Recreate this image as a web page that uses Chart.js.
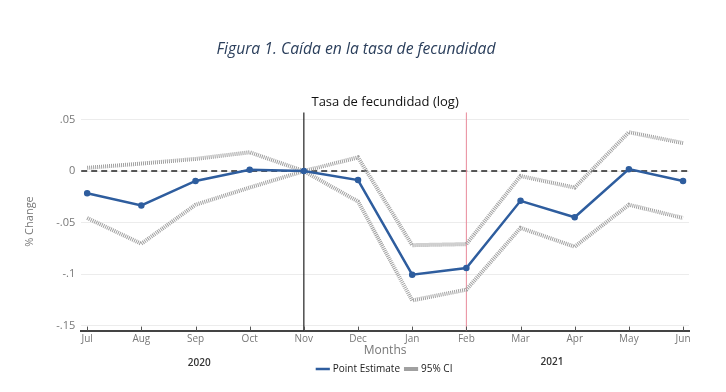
<!DOCTYPE html>
<html>
<head>
<meta charset="utf-8">
<script src="https://cdn.jsdelivr.net/npm/chart.js@4.4.1/dist/chart.umd.min.js"></script>
<style>
  html, body { margin: 0; padding: 0; background: #fff; }
  #wrap { width: 726px; height: 392px; position: relative; }
</style>
</head>
<body>
<div id="wrap"><canvas id="fecChart" width="726" height="392"></canvas></div>
<script>
const months = ['Jul', 'Aug', 'Sep', 'Oct', 'Nov', 'Dec', 'Jan', 'Feb', 'Mar', 'Apr', 'May', 'Jun'];
const pointEstimate = [-0.0215, -0.0334, -0.0096, 0.0013, 0, -0.0087, -0.1007, -0.0942, -0.0289, -0.0449, 0.0019, -0.0096];
const ciUpper = [0.0032, 0.0073, 0.0118, 0.0183, 0, 0.0133, -0.0720, -0.0710, -0.0048, -0.0160, 0.0378, 0.0272];
const ciLower = [-0.0456, -0.0706, -0.0327, -0.0160, 0, -0.0295, -0.1257, -0.1152, -0.0552, -0.0735, -0.0327, -0.0456];
const yTickValues = [-0.15, -0.1, -0.05, 0, 0.05];
const yTickLabels = ['-.15', '-.1', '-.05', '0', '.05'];
const years = ['2020', '2021'];

const FONT = '"Open Sans", "Noto Sans", sans-serif';
const toPoints = (arr) => arr.map((v, i) => ({ x: i, y: v }));

// reference lines, inner ticks and year labels
const extras = {
    id: 'extras',
    beforeDatasetsDraw(chart) {
        const { ctx, chartArea: a, scales: { x, y } } = chart;
        ctx.save();
        // dashed zero line
        ctx.strokeStyle = '#222';
        ctx.lineWidth = 1.5;
        ctx.setLineDash([6, 4]);
        ctx.beginPath();
        ctx.moveTo(a.left, y.getPixelForValue(0));
        ctx.lineTo(a.right, y.getPixelForValue(0));
        ctx.stroke();
        ctx.setLineDash([]);
        // Nov line
        ctx.strokeStyle = '#222';
        ctx.lineWidth = 1.2;
        ctx.beginPath();
        ctx.moveTo(x.getPixelForValue(4), a.top);
        ctx.lineTo(x.getPixelForValue(4), a.bottom);
        ctx.stroke();
        // Feb line
        ctx.strokeStyle = '#e8899a';
        ctx.lineWidth = 1;
        ctx.beginPath();
        ctx.moveTo(x.getPixelForValue(7), a.top);
        ctx.lineTo(x.getPixelForValue(7), a.bottom);
        ctx.stroke();
        // inner ticks
        ctx.strokeStyle = '#555';
        ctx.lineWidth = 1;
        months.forEach((m, i) => {
            const px = Math.round(x.getPixelForValue(i)) + 0.5;
            ctx.beginPath();
            ctx.moveTo(px, a.bottom);
            ctx.lineTo(px, a.bottom - 4);
            ctx.stroke();
        });
        ctx.restore();
    },
    afterDraw(chart) {
        const { ctx, scales: { x } } = chart;
        ctx.save();
        ctx.fillStyle = '#333';
        ctx.font = '600 10px ' + FONT;
        ctx.textAlign = 'center';
        ctx.textBaseline = 'middle';
        ctx.fillText(years[0], x.getPixelForValue(2.07), 363);
        ctx.fillText(years[1], x.getPixelForValue(8.58), 362);
        ctx.restore();
    }
};

new Chart(document.getElementById('fecChart').getContext('2d'), {
    type: 'line',
    data: {
        datasets: [
            {
                label: 'Point Estimate',
                data: toPoints(pointEstimate),
                borderColor: '#2e5d9e',
                backgroundColor: '#2e5d9e',
                borderWidth: 2.5,
                pointRadius: 2,
                pointHoverRadius: 2,
                tension: 0,
                order: 0
            },
            {
                label: '95% CI',
                data: toPoints(ciUpper),
                borderColor: '#a0a0a0',
                backgroundColor: '#a0a0a0',
                borderWidth: 4,
                borderDash: [1, 1],
                pointRadius: 0,
                tension: 0,
                order: 1
            },
            {
                label: '95% CI (lower)',
                data: toPoints(ciLower),
                borderColor: '#a0a0a0',
                backgroundColor: '#a0a0a0',
                borderWidth: 4,
                borderDash: [1, 1],
                pointRadius: 0,
                tension: 0,
                order: 1
            }
        ]
    },
    options: {
        responsive: false,
        animation: false,
        layout: { padding: { left: 23, right: 37, top: 40, bottom: 8 } },
        plugins: {
            title: {
                display: true,
                text: 'Figura 1. Caída en la tasa de fecundidad',
                color: '#2b3f5c',
                font: { family: FONT, size: 15.7, style: 'italic', weight: 'normal' },
                padding: { top: 0, bottom: 36 }
            },
            subtitle: {
                display: true,
                fullSize: false,
                text: 'Tasa de fecundidad (log)',
                color: '#111',
                font: { family: FONT, size: 13 },
                padding: { top: 0, bottom: 2 }
            },
            legend: {
                position: 'bottom',
                fullSize: false,
                labels: {
                    color: '#222',
                    font: { family: FONT, size: 10 },
                    usePointStyle: true,
                    pointStyle: 'line',
                    boxWidth: 14,
                    padding: 6,
                    filter: (item) => item.datasetIndex !== 2
                }
            },
            tooltip: { enabled: false }
        },
        scales: {
            x: {
                type: 'linear',
                min: -0.11,
                max: 11.11,
                afterBuildTicks: (scale) => { scale.ticks = months.map((m, i) => ({ value: i })); },
                ticks: {
                    color: '#777',
                    font: { family: FONT, size: 10 },
                    padding: -5,
                    maxRotation: 0,
                    autoSkip: false,
                    callback: (v) => months[v]
                },
                grid: { display: false },
                border: { color: '#444', width: 2 },
                title: {
                    display: true,
                    text: 'Months',
                    color: '#777',
                    font: { family: FONT, size: 12 },
                    padding: { top: 3, bottom: 0 }
                }
            },
            y: {
                min: -0.155,
                max: 0.057,
                afterBuildTicks: (scale) => { scale.ticks = yTickValues.map((v) => ({ value: v })); },
                ticks: {
                    color: '#777',
                    font: { family: FONT, size: 11 },
                    padding: 6,
                    callback: (v) => yTickLabels[yTickValues.findIndex((t) => Math.abs(t - v) < 1e-9)]
                },
                grid: { color: '#ececec', lineWidth: 1, drawTicks: false },
                border: { display: false },
                title: {
                    display: true,
                    text: '% Change',
                    color: '#777',
                    font: { family: FONT, size: 11 },
                    padding: { top: 0, bottom: 14 }
                }
            }
        }
    },
    plugins: [extras]
});
</script>
</body>
</html>
